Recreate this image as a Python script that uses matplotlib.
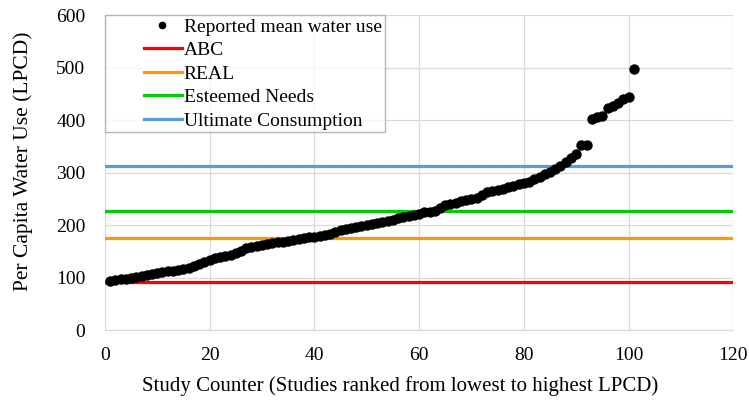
import numpy as np
import matplotlib.pyplot as plt
from matplotlib.lines import Line2D

# reported mean water use per study, ranked lowest to highest (LPCD)
lpcd = [93, 96, 97, 98, 99, 101, 103, 104, 106, 108,
        110, 112, 113, 114, 116, 119, 122, 125, 130, 134,
        137, 139, 141, 143, 146, 150, 156, 158, 160, 162,
        164, 166, 167, 168, 170, 172, 173, 175, 177, 178,
        179, 181, 183, 186, 190, 193, 195, 196, 198, 200,
        202, 204, 206, 208, 210, 213, 216, 218, 220, 222,
        224, 225, 226, 232, 238, 241, 243, 245, 247, 249,
        252, 258, 263, 265, 266, 268, 272, 275, 278, 281,
        283, 287, 292, 297, 302, 307, 313, 320, 328, 335,
        352, 352, 403, 406, 408, 424, 427, 432, 440, 444,
        497]
study = np.arange(1, len(lpcd) + 1)

ref_names = ["ABC", "REAL", "Esteemed Needs", "Ultimate Consumption"]
ref_values = [92, 175, 227, 313]
ref_colors = ["#ff0000", "#ff9900", "#00cc00", "#5b9bd5"]

plt.rcParams['font.family'] = ['Liberation Serif', 'DejaVu Serif']


# excel style legend keys: short key sitting right next to the text
class RightKey:
    def legend_artist(self, legend, orig_handle, fontsize, handlebox):
        w, h = handlebox.width, handlebox.height
        if orig_handle.get_linestyle() == "None":
            art = Line2D([w * 0.74], [h / 2], ls="None", marker="o", ms=4.5,
                         color=orig_handle.get_color())
        else:
            art = Line2D([w * 0.49, w], [h / 2, h / 2], lw=2.3,
                         color=orig_handle.get_color())
        handlebox.add_artist(art)
        return art


fig = plt.figure(figsize=(7.49, 4.11), dpi=100)
ax = fig.add_axes([0.140, 0.197, 0.839, 0.766])

ax.scatter(study, lpcd, s=42, color="black", zorder=4)
for val, col in zip(ref_values, ref_colors):
    ax.axhline(val, color=col, lw=2.3, zorder=3)

handles = [Line2D([], [], ls="None", marker="o", color="black")]
handles += [Line2D([], [], color=c) for c in ref_colors]
labels = ["Reported mean water use"] + ref_names

ax.set_xlim(0, 120)
ax.set_ylim(0, 600)
ax.set_xticks(range(0, 121, 20))
ax.set_yticks(range(0, 601, 100))
ax.grid(True, color="#d9d9d9", lw=0.9, zorder=0)
ax.set_axisbelow(True)
for s in ["top", "right", "left"]:
    ax.spines[s].set_visible(False)
ax.spines["bottom"].set_color("#d9d9d9")
ax.tick_params(length=0, labelsize=14)
ax.tick_params(axis="x", pad=12)
ax.tick_params(axis="y", pad=14)

ax.set_xlabel("Study Counter (Studies ranked from lowest to highest LPCD)", fontsize=15)
ax.xaxis.set_label_coords(0.47, -0.145)
ax.set_ylabel("Per Capita Water Use (LPCD)", fontsize=15.5)
ax.yaxis.set_label_coords(-0.115, 0.535)

leg = ax.legend(handles, labels, handler_map={Line2D: RightKey()},
                loc="upper left", bbox_to_anchor=(0.0, 1.0), fontsize=14,
                frameon=True, fancybox=False, edgecolor="#a6a6a6",
                borderpad=0.15, labelspacing=0.3, handlelength=3.8,
                handletextpad=0.1, borderaxespad=0.0)
leg.get_frame().set_linewidth(1.0)
leg.set_zorder(5)

plt.savefig("out.png", dpi=100)
